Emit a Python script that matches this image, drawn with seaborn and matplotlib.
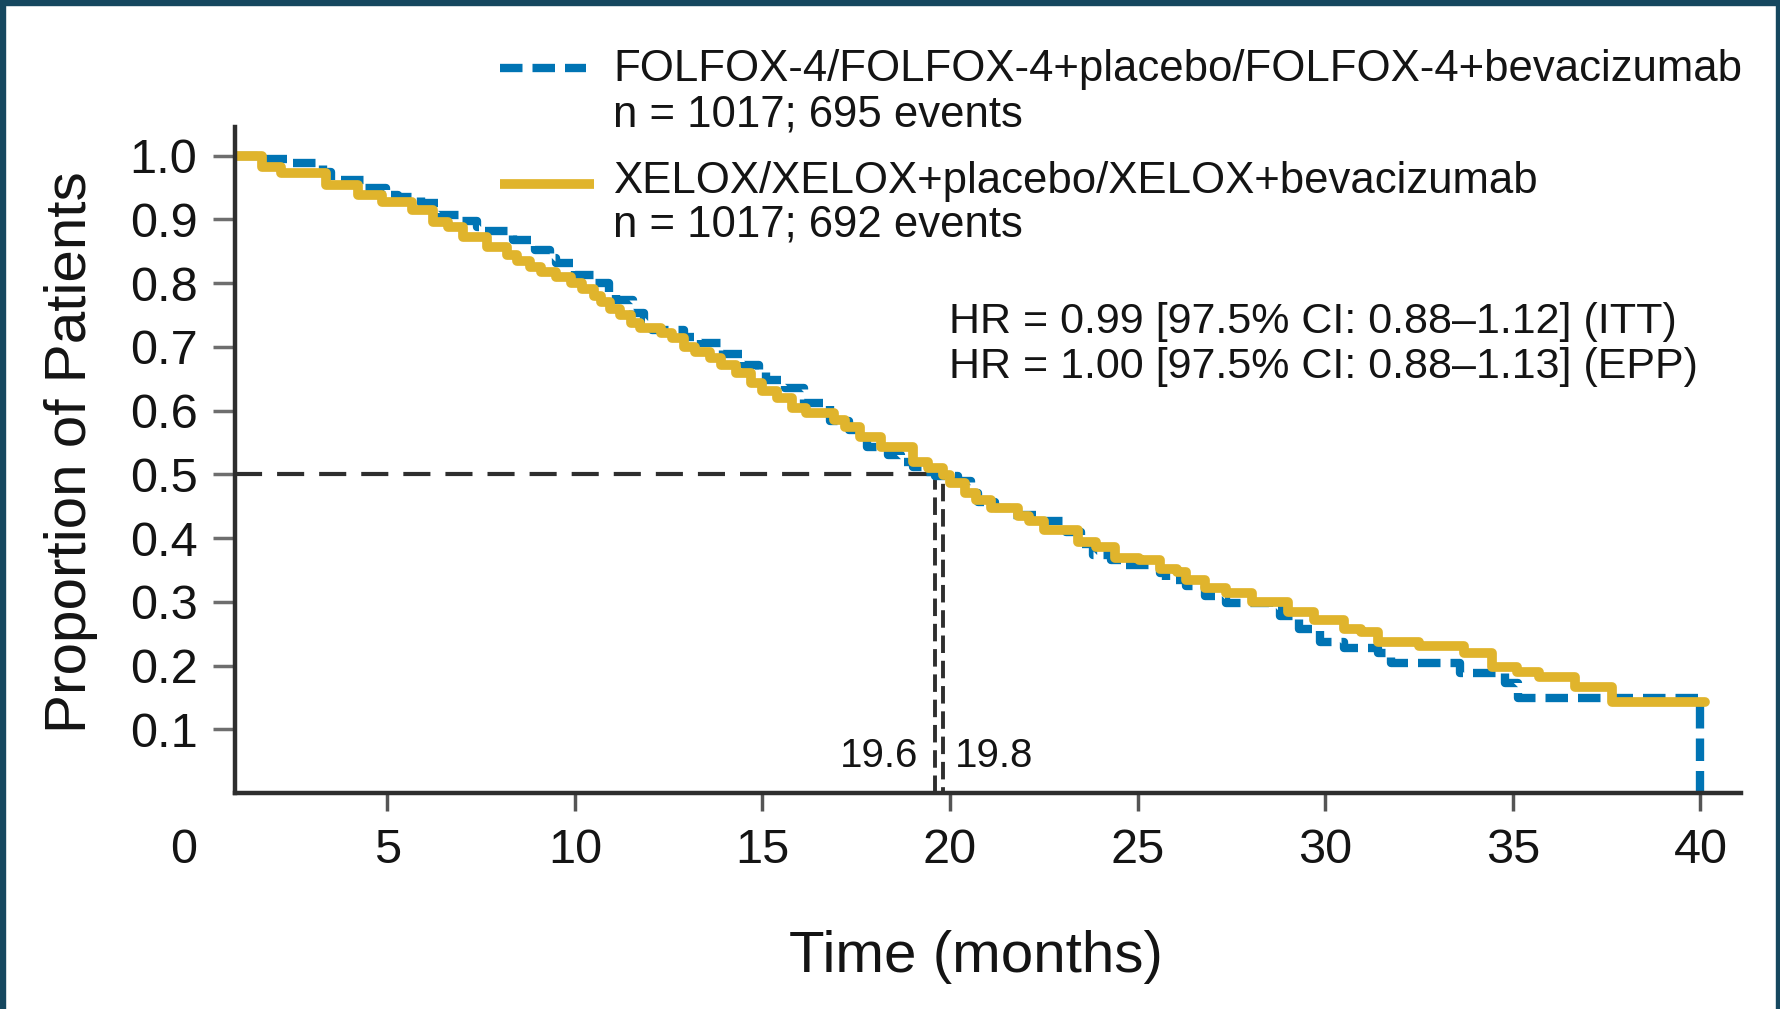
import pandas as pd
import matplotlib.pyplot as plt
import seaborn as sns
from matplotlib.lines import Line2D
from matplotlib.patches import Rectangle

# Kaplan-Meier steps (time in months, proportion alive)
folfox_time = [0.94, 1.7, 2.4, 3.3, 3.5, 4.4, 4.98, 5.3, 5.9, 6.35, 6.9, 7.38, 7.6,
               8.35, 8.95, 9.35, 9.5, 10.0, 10.55, 10.9, 11.1, 11.55, 11.85, 12.05,
               12.9, 13.35, 13.95, 14.5, 14.9, 15.1, 15.6, 16.1, 16.8, 17.3, 17.55,
               17.8, 18.35, 18.7, 19.0, 19.3, 19.6, 20.2, 20.55, 20.75, 21.2, 21.6,
               22.5, 23.1, 23.5, 23.8, 24.3, 24.6, 25.6, 25.75, 26.3, 26.8, 27.35,
               28.5, 28.8, 29.3, 29.85, 30.5, 31.4, 31.75, 33.6, 34.8, 35.15, 40.0]
folfox_surv = [1.0, 0.995, 0.988, 0.975, 0.962, 0.949, 0.938, 0.935, 0.925, 0.907,
               0.897, 0.888, 0.881, 0.868, 0.852, 0.84, 0.832, 0.813, 0.80, 0.785,
               0.773, 0.753, 0.74, 0.726, 0.716, 0.706, 0.689, 0.671, 0.66, 0.648,
               0.635, 0.612, 0.583, 0.57, 0.559, 0.543, 0.53, 0.52, 0.512, 0.503,
               0.497, 0.49, 0.47, 0.457, 0.447, 0.436, 0.426, 0.41, 0.39, 0.373,
               0.365, 0.358, 0.345, 0.334, 0.324, 0.309, 0.298, 0.29, 0.278, 0.258,
               0.237, 0.227, 0.219, 0.204, 0.188, 0.172, 0.149, 0.0]

xelox_time = [0.94, 1.65, 2.18, 3.38, 4.22, 4.85, 5.67, 6.22, 6.62, 7.02, 7.65, 8.18,
              8.45, 8.8, 9.1, 9.5, 9.9, 10.2, 10.5, 10.7, 10.95, 11.2, 11.5, 11.75,
              12.3, 12.6, 12.9, 13.2, 13.6, 13.9, 14.3, 14.7, 15.0, 15.4, 15.8, 16.15,
              16.9, 17.2, 17.6, 18.15, 19.0, 19.4, 19.8, 20.0, 20.4, 20.7, 21.1, 21.8,
              22.1, 22.5, 23.4, 23.9, 24.4, 25.05, 25.6, 26.05, 26.3, 26.8, 27.35,
              28.05, 29.0, 29.7, 30.5, 30.95, 31.4, 32.5, 33.7, 34.45, 35.1, 35.7,
              36.65, 37.65, 40.12]
xelox_surv = [1.0, 0.982, 0.973, 0.954, 0.938, 0.928, 0.915, 0.896, 0.888, 0.873,
              0.857, 0.844, 0.834, 0.826, 0.818, 0.81, 0.80, 0.79, 0.78, 0.771, 0.76,
              0.75, 0.737, 0.73, 0.722, 0.714, 0.70, 0.692, 0.682, 0.671, 0.659,
              0.644, 0.63, 0.62, 0.604, 0.596, 0.585, 0.574, 0.559, 0.543, 0.52,
              0.51, 0.499, 0.486, 0.47, 0.46, 0.447, 0.434, 0.426, 0.413, 0.394,
              0.386, 0.368, 0.366, 0.352, 0.347, 0.334, 0.321, 0.313, 0.30, 0.284,
              0.271, 0.258, 0.253, 0.237, 0.231, 0.219, 0.197, 0.19, 0.182, 0.167,
              0.142, 0.142]

medians = [19.6, 19.8]
x_ticks = [5, 10, 15, 20, 25, 30, 35, 40]
y_ticks = [0.1, 0.2, 0.3, 0.4, 0.5, 0.6, 0.7, 0.8, 0.9, 1.0]

legend_labels = ['FOLFOX-4/FOLFOX-4+placebo/FOLFOX-4+bevacizumab',
                 'XELOX/XELOX+placebo/XELOX+bevacizumab']
legend_counts = ['n = 1017; 695 events', 'n = 1017; 692 events']
hr_lines = ['HR = 0.99 [97.5% CI: 0.88\u20131.12] (ITT)',
            'HR = 1.00 [97.5% CI: 0.88\u20131.13] (EPP)']

BLUE = '#0074b4'
YELLOW = '#e0b42c'
DARK = '#2e2e2e'
TXT = '#141414'
BORDER = '#15475f'

sns.set_style('ticks')
plt.rcParams['font.family'] = ['Liberation Sans', 'DejaVu Sans']
plt.rcParams['text.color'] = TXT

fig = plt.figure(figsize=(17.81, 10.09), dpi=100)
ax = fig.add_axes([0.1319, 0.2141, 0.8456, 0.6601])

df_f = pd.DataFrame({'time': folfox_time, 'surv': folfox_surv})
df_x = pd.DataFrame({'time': xelox_time, 'surv': xelox_surv})

sns.lineplot(data=df_f, x='time', y='surv', ax=ax, color=BLUE, lw=6,
             drawstyle='steps-post', estimator=None, zorder=2)
ax.lines[-1].set_linestyle((0, (2.7, 1.2)))
sns.lineplot(data=df_x, x='time', y='surv', ax=ax, color=YELLOW, lw=7,
             drawstyle='steps-post', estimator=None, zorder=2.2)

# median lines
x0 = 0.94
ax.hlines(0.5, x0, medians[1], colors=DARK, lw=3, linestyles=(0, (6.5, 3.6)), zorder=1.5)
ax.vlines(medians, 0, 0.5, colors=DARK, lw=2.8,
          linestyles=[(0, (4.5, 2)), (3, (4.5, 2))], zorder=1.5)
ax.text(medians[0] - 0.45, 0.041, '19.6', ha='right', va='baseline', fontsize=29)
ax.text(medians[1] + 0.32, 0.041, '19.8', ha='left', va='baseline', fontsize=29)

for i, line in enumerate(hr_lines):
    ax.text(19.97, 0.7217 - i * 0.0707, line, ha='left', va='baseline', fontsize=31)

ax.set_xlim(x0, 41.08)
ax.set_ylim(0, 1.045)
ax.set_xticks(x_ticks)
ax.set_xticklabels([str(t) for t in x_ticks])
ax.set_yticks(y_ticks)
ax.set_yticklabels([f'{t:.1f}' for t in y_ticks])
ax.text(-0.42, -0.11, '0', ha='center', va='baseline', fontsize=35, clip_on=False)

sns.despine(ax=ax)
for side in ['left', 'bottom']:
    ax.spines[side].set_color(DARK)
    ax.spines[side].set_linewidth(3.2)
ax.tick_params(axis='x', length=13, width=2.5, color='#555555', pad=12,
               labelsize=35, labelcolor=TXT)
ax.tick_params(axis='y', length=16, width=2.5, color='#6e6e6e', pad=11,
               labelsize=35, labelcolor=TXT)

ax.set_xlabel('Time (months)', fontsize=42, color=TXT)
ax.set_ylabel('Proportion of Patients', fontsize=42, color=TXT)
ax.xaxis.set_label_coords(0.492, -0.206)
ax.yaxis.set_label_coords(-0.091, 0.512)

# legend drawn by hand: sample line at the first text row
W, H = 1781, 1009
fig.add_artist(Line2D([500 / W, 586 / W], [1 - 68 / H, 1 - 68 / H], color=BLUE, lw=6,
                      linestyle=(0, (2.7, 1.2)), solid_capstyle='butt',
                      dash_capstyle='butt'))
fig.add_artist(Line2D([500 / W, 594 / W], [1 - 184 / H, 1 - 184 / H], color=YELLOW,
                      lw=7, solid_capstyle='butt'))
for lab, cnt, y1, y2 in zip(legend_labels, legend_counts, [81, 193], [127, 237]):
    fig.text(613 / W, 1 - y1 / H, lab, ha='left', va='baseline', fontsize=31.5)
    fig.text(613 / W, 1 - y2 / H, cnt, ha='left', va='baseline', fontsize=31.5)

# dark frame on left, top and right
fig.add_artist(Rectangle((0, 0), 5 / W, 1, transform=fig.transFigure, color=BORDER))
fig.add_artist(Rectangle((0, 1 - 5 / H), 1, 5 / H, transform=fig.transFigure, color=BORDER))
fig.add_artist(Rectangle((1 - 5 / W, 0), 5 / W, 1, transform=fig.transFigure, color=BORDER))

fig.savefig('out.png', dpi=100)
